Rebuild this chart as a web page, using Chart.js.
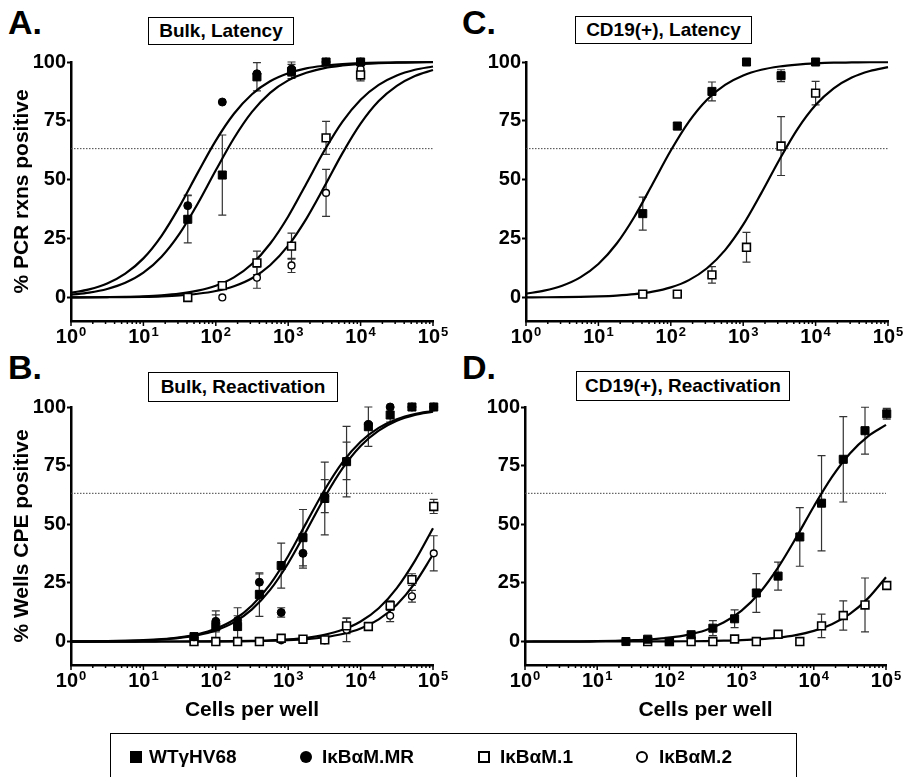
<!DOCTYPE html>
<html>
<head>
<meta charset="utf-8">
<script src="https://cdn.jsdelivr.net/npm/chart.js@4.4.1/dist/chart.umd.min.js"></script>
<style>
  body { margin: 0; width: 905px; height: 777px; overflow: hidden; background: #fff; position: relative;
         font-family: "Liberation Sans", Arial, sans-serif; color: #000; }
  canvas { position: absolute; }
  .letter { position: absolute; font-weight: bold; font-size: 34px; line-height: 1; }
  .tbox { position: absolute; box-sizing: border-box; border: 1.5px solid #000; font-weight: bold;
          font-size: 19px; text-align: center; white-space: nowrap; line-height: 25px; }
  #legend { position: absolute; left: 110px; top: 733px; width: 687px; height: 60px; box-sizing: border-box;
            border: 1.5px solid #000; }
  .item { position: absolute; top: 746px; font-weight: bold; font-size: 19px; line-height: 22px; white-space: nowrap; }
  .mk { position: absolute; box-sizing: border-box; }
</style>
</head>
<body>

<div class="letter" style="left:8px; top:5px;">A.</div>
<div class="letter" style="left:462px; top:5px;">C.</div>
<div class="letter" style="left:8px; top:350px;">B.</div>
<div class="letter" style="left:462px; top:350px;">D.</div>

<div class="tbox" style="left:148px; top:17px; width:146px; height:28px;">Bulk, Latency</div>
<div class="tbox" style="left:575px; top:16px; width:177px; height:28px;">CD19(+), Latency</div>
<div class="tbox" style="left:148px; top:372px; width:190px; height:30px; line-height:27px;">Bulk, Reactivation</div>
<div class="tbox" style="left:576px; top:371px; width:214px; height:30px; line-height:27px;">CD19(+), Reactivation</div>

<canvas id="cA" width="452" height="350" style="left:0; top:0;"></canvas>
<canvas id="cC" width="453" height="350" style="left:452px; top:0;"></canvas>
<canvas id="cB" width="452" height="385" style="left:0; top:350px;"></canvas>
<canvas id="cD" width="453" height="385" style="left:452px; top:350px;"></canvas>

<div id="legend"></div>
<div id="legendItems"></div>

<script>
// Noms des séries
const SERIES = ['WTγHV68', 'IκBαM.MR', 'IκBαM.1', 'IκBαM.2'];

// Axes
const X_TICKS = [1, 10, 100, 1000, 10000, 100000];
const X_EXP = ['0', '1', '2', '3', '4', '5'];
const Y_TICKS = [0, 25, 50, 75, 100];
const THRESH = 63.2;

// Grille des courbes ajustées (cellules par puits)
const CURVE_X = [1, 1.78, 3.16, 5.62, 10, 17.8, 31.6, 56.2, 100, 178, 316, 562, 1000, 1778, 3162,
                 5623, 10000, 17783, 31623, 56234, 100000];

// A. Bulk, Latency
const A_X = [41, 123, 370, 1111, 3333, 10000];
const A_WT = [33.2, 52, 93.7, 96, 100, 100];
const A_WT_ERR = [10, 17, 6, 3, 0, 0];
const A_MR = [39, 83, 95, 97, 100, 100];
const A_MR_ERR = [4.5, 0, 0, 3, 0, 0];
const A_M1 = [0, 5, 14.7, 21.8, 67.8, 94.5];
const A_M1_ERR = [0, 0, 5, 5.5, 7, 2.5];
const A_M2 = [0, 0, 8.4, 13.6, 44.4, 97];
const A_M2_ERR = [0, 0, 4.5, 3, 10, 2];
const A_WT_FIT = [1.16, 2.05, 3.58, 6.2, 10.5, 17.3, 27.1, 39.8, 54.0, 67.6, 78.8, 86.9, 92.2, 95.4, 97.4,
                  98.5, 99.2, 99.5, 99.7, 99.85, 99.9];
const A_MR_FIT = [1.96, 3.43, 5.94, 10.1, 16.6, 26.2, 38.7, 52.9, 66.6, 78.0, 86.3, 91.8, 95.2, 97.3, 98.4,
                  99.1, 99.5, 99.7, 99.8, 99.9, 100];
const A_M1_FIT = [0.05, 0.09, 0.17, 0.29, 0.52, 0.93, 1.63, 2.87, 4.99, 8.53, 14.2, 22.8, 34.4, 48.3, 62.4,
                  74.7, 84.0, 90.3, 94.3, 96.7, 98.1];
const A_M2_FIT = [0.03, 0.05, 0.09, 0.16, 0.28, 0.5, 0.88, 1.56, 2.74, 4.77, 8.18, 13.7, 22.0, 33.4, 47.1,
                  61.3, 73.8, 83.4, 89.9, 94.1, 96.6];

// C. CD19(+), Latency
const C_X = [41, 123, 370, 1111, 3333, 10000];
const C_WT = [35.6, 72.8, 87.5, 100, 94.2, 100];
const C_WT_ERR = [7, 1.5, 4, 0, 2.5, 0];
const C_M1 = [1.4, 1.4, 9.6, 21.3, 64.3, 86.8];
const C_M1_ERR = [1.2, 1, 3.5, 6.3, 12.5, 5];
const C_WT_FIT = [1.63, 2.87, 4.99, 8.53, 14.2, 22.8, 34.4, 48.3, 62.4, 74.7, 84.0, 90.3, 94.3, 96.7, 98.1,
                  98.9, 99.4, 99.7, 99.8, 99.9, 99.9];
const C_M1_FIT = [0.04, 0.08, 0.14, 0.25, 0.45, 0.79, 1.39, 2.45, 4.27, 7.36, 12.4, 20.1, 30.9, 44.3, 58.5,
                  71.5, 81.7, 88.8, 93.4, 96.2, 97.8];

// B. Bulk, Reactivation
const B_X = [50, 100, 200, 400, 800, 1600, 3200, 6400, 12800, 25600, 51200, 102400];
const B_WT = [2.1, 6.4, 6.4, 20, 32.4, 44.3, 61, 76.7, 91.6, 96.6, 100, 100];
const B_WT_ERR = [0.5, 5, 8, 9.3, 9.6, 12, 15.5, 15, 8.4, 3, 0, 0];
const B_MR = [2, 8.6, 9, 25.3, 12.4, 37.6, 62, 77, 92.6, 100, 100, 100];
const B_MR_ERR = [0, 4.5, 2, 3.5, 2, 6.3, 7, 8, 0, 0, 0, 0];
const B_M1 = [0, 0, 0, 0, 1.4, 1, 0.7, 6.7, 6.4, 15.3, 26.4, 57.6];
const B_M1_ERR = [0, 0, 0, 0, 0.8, 0.8, 0.8, 3.3, 1, 2, 2.5, 3];
const B_M2 = [0, 0, 0, 0, 0.5, 1, 0.5, 5, 6.4, 11, 19.3, 37.6];
const B_M2_ERR = [0, 0, 0, 0, 0.8, 0.8, 0.8, 5, 1, 2.5, 2.5, 7.5];
const B_WT_FIT = [0.05, 0.09, 0.16, 0.28, 0.5, 0.88, 1.56, 2.74, 4.77, 8.18, 13.7, 22.0, 33.4, 47.1, 61.3,
                  73.8, 83.4, 89.9, 94.1, 96.6, 98.0];
const B_MR_FIT = [0.06, 0.1, 0.18, 0.32, 0.57, 1.01, 1.79, 3.13, 5.44, 9.28, 15.4, 24.4, 36.5, 50.6, 64.5,
                  76.4, 85.2, 91.1, 94.8, 97.0, 98.3];
const B_M1_FIT = [0, 0, 0, 0, 0.01, 0.02, 0.03, 0.05, 0.09, 0.17, 0.29, 0.52, 0.93, 1.63, 2.87,
                  4.99, 8.53, 14.2, 22.8, 34.4, 48.3];
const B_M2_FIT = [0, 0, 0, 0, 0, 0.01, 0.02, 0.03, 0.06, 0.1, 0.19, 0.33, 0.59, 1.04, 1.83,
                  3.2, 5.56, 9.48, 15.7, 24.9, 37.1];

// D. CD19(+), Reactivation
const D_X = [25, 50, 100, 200, 400, 800, 1600, 3200, 6400, 12800, 25600, 51200, 102400];
const D_WT = [0, 1, 0, 2.9, 5.7, 9.7, 20.7, 27.9, 44.6, 59, 77.7, 89.9, 97.1];
const D_WT_ERR = [0, 0.5, 0, 0.8, 3.2, 3.8, 8.3, 6, 12.5, 20.3, 18.2, 10, 2.3];
const D_M1 = [null, 0, 0, 0, 0, 1.1, 0, 3.1, 0, 6.7, 11.1, 15.6, 23.9];
const D_M1_ERR = [0, 0, 0, 0.8, 0.8, 0.8, 0.8, 1, 0, 5, 6.2, 11.5, 0];
const D_WT_FIT = [0.02, 0.04, 0.06, 0.11, 0.19, 0.33, 0.57, 0.98, 1.68, 2.87, 4.85, 8.1, 13.2, 20.8, 31.3,
                  44.0, 57.6, 70.1, 80.2, 87.5, 92.4];
const D_M1_FIT = [0, 0, 0, 0, 0.01, 0.02, 0.03, 0.05, 0.08, 0.13, 0.21, 0.36, 0.6, 1.0, 1.66,
                  2.75, 4.54, 7.39, 11.8, 18.4, 27.4];

const FONT = '"Liberation Sans", Arial, sans-serif';

// Style des marqueurs par série (WT, MR, M.1, M.2)
const MARKERS = [
    { style: 'rect', r: 5.7, fill: '#000', bw: 1 },
    { style: 'circle', r: 4, fill: '#000', bw: 1 },
    { style: 'rect', r: 5.5, fill: '#fff', bw: 1.6 },
    { style: 'circle', r: 3.4, fill: '#fff', bw: 1.4 }
];

// Plugin: barres d'erreur, graduations log de l'axe x, titres d'axes
const decor = {
    id: 'decor',
    beforeDatasetsDraw(chart) {
        const ctx = chart.ctx;
        const x = chart.scales.x, y = chart.scales.y;
        ctx.save();
        ctx.strokeStyle = '#333';
        ctx.lineWidth = 1.2;
        chart.data.datasets.forEach(ds => {
            if (!ds.hasErrors) return;
            ds.data.forEach(p => {
                if (!p.e) return;
                const px = x.getPixelForValue(p.x);
                const y1 = y.getPixelForValue(p.y + p.e);
                const y2 = y.getPixelForValue(p.y - p.e);
                ctx.beginPath();
                ctx.moveTo(px, y1); ctx.lineTo(px, y2);
                ctx.moveTo(px - 4, y1); ctx.lineTo(px + 4, y1);
                ctx.moveTo(px - 4, y2); ctx.lineTo(px + 4, y2);
                ctx.stroke();
            });
        });
        ctx.restore();
    },
    afterDraw(chart) {
        const ctx = chart.ctx;
        const x = chart.scales.x;
        const area = chart.chartArea;
        const base = area.bottom;
        const opts = chart.options.plugins.decor;
        ctx.save();
        ctx.strokeStyle = '#000';
        ctx.fillStyle = '#000';
        ctx.lineWidth = 1.5;
        X_TICKS.forEach((v, k) => {
            const px = x.getPixelForValue(v);
            ctx.beginPath();
            ctx.moveTo(px, base); ctx.lineTo(px, base + 5);
            ctx.stroke();
            if (k < X_TICKS.length - 1) {
                for (let m = 2; m <= 9; m++) {
                    const mx = x.getPixelForValue(v * m);
                    ctx.beginPath();
                    ctx.moveTo(mx, base); ctx.lineTo(mx, base + 3);
                    ctx.stroke();
                }
            }
            ctx.font = 'bold 20px ' + FONT;
            const w1 = ctx.measureText('10').width;
            ctx.font = 'bold 13px ' + FONT;
            const w2 = ctx.measureText(X_EXP[k]).width;
            const x0 = px - (w1 + w2 + 1) / 2;
            ctx.textAlign = 'left';
            ctx.textBaseline = 'alphabetic';
            ctx.font = 'bold 20px ' + FONT;
            ctx.fillText('10', x0, base + 22);
            ctx.font = 'bold 13px ' + FONT;
            ctx.fillText(X_EXP[k], x0 + w1 + 1, base + 15);
        });
        ctx.font = 'bold 21px ' + FONT;
        ctx.textAlign = 'center';
        ctx.textBaseline = 'middle';
        if (opts.xTitle) {
            ctx.fillText(opts.xTitle, (area.left + area.right) / 2, base + 45);
        }
        if (opts.yTitle) {
            ctx.translate(22.5, (area.top + area.bottom) / 2);
            ctx.rotate(-Math.PI / 2);
            ctx.fillText(opts.yTitle, 0, 0);
        }
        ctx.restore();
    }
};

function pontos(xs, ys, errs) {
    const out = [];
    xs.forEach((v, i) => {
        if (ys[i] === null) return;
        out.push({ x: v, y: ys[i], e: errs[i] });
    });
    return out;
}

function curva(ys) {
    return CURVE_X.map((v, i) => ({ x: v, y: ys[i] }));
}

function criarPainel(id, cfg) {
    const datasets = [];
    cfg.series.forEach(s => {
        const mk = MARKERS[s.idx];
        datasets.push({
            label: SERIES[s.idx],
            data: pontos(cfg.x, s.y, s.err),
            hasErrors: true,
            pointStyle: mk.style,
            pointRadius: mk.r,
            backgroundColor: mk.fill,
            borderColor: '#000',
            borderWidth: mk.bw,
            showLine: false,
            order: 1,
            clip: false
        });
    });
    cfg.series.forEach(s => {
        datasets.push({
            label: SERIES[s.idx] + ' fit',
            data: curva(s.fit),
            showLine: true,
            pointRadius: 0,
            borderColor: '#000',
            borderWidth: 2.2,
            cubicInterpolationMode: 'monotone',
            order: 2,
            clip: false
        });
    });
    datasets.push({
        label: 'threshold',
        data: [{ x: X_TICKS[0], y: THRESH }, { x: X_TICKS[X_TICKS.length - 1], y: THRESH }],
        showLine: true,
        pointRadius: 0,
        borderColor: '#444',
        borderWidth: 1,
        borderDash: [1.5, 1.5],
        order: 3
    });

    new Chart(document.getElementById(id), {
        type: 'scatter',
        data: { datasets: datasets },
        plugins: [decor],
        options: {
            responsive: false,
            animation: false,
            events: [],
            layout: { padding: { top: cfg.padTop, right: cfg.padRight, left: 0, bottom: 0 } },
            plugins: {
                legend: { display: false },
                tooltip: { enabled: false },
                decor: { yTitle: cfg.yTitle, xTitle: cfg.xTitle }
            },
            scales: {
                x: {
                    type: 'logarithmic',
                    min: X_TICKS[0],
                    max: X_TICKS[X_TICKS.length - 1],
                    afterFit: s => { s.height = cfg.xH; },
                    ticks: { display: false },
                    grid: { display: false },
                    border: { display: true, color: '#000', width: 2.5 }
                },
                y: {
                    min: -10,
                    max: 100,
                    afterBuildTicks: s => { s.ticks = Y_TICKS.map(v => ({ value: v })); },
                    afterFit: s => { s.width = cfg.yW; },
                    ticks: { font: { family: FONT, size: 20, weight: 'bold' }, color: '#000', padding: 1 },
                    grid: { drawOnChartArea: false, drawTicks: true, tickLength: 4, tickWidth: 2, tickColor: '#000' },
                    border: { display: true, color: '#000', width: 2.5 }
                }
            }
        }
    });
}

document.addEventListener('DOMContentLoaded', function() {
    criarPainel('cA', {
        x: A_X, padTop: 62, padRight: 19, yW: 71, xH: 29,
        yTitle: '% PCR rxns positive',
        series: [
            { idx: 0, y: A_WT, err: A_WT_ERR, fit: A_WT_FIT },
            { idx: 1, y: A_MR, err: A_MR_ERR, fit: A_MR_FIT },
            { idx: 2, y: A_M1, err: A_M1_ERR, fit: A_M1_FIT },
            { idx: 3, y: A_M2, err: A_M2_ERR, fit: A_M2_FIT }
        ]
    });
    criarPainel('cC', {
        x: C_X, padTop: 62, padRight: 17, yW: 74, xH: 29,
        series: [
            { idx: 0, y: C_WT, err: C_WT_ERR, fit: C_WT_FIT },
            { idx: 2, y: C_M1, err: C_M1_ERR, fit: C_M1_FIT }
        ]
    });
    criarPainel('cB', {
        x: B_X, padTop: 57, padRight: 19, yW: 71, xH: 70,
        yTitle: '% Wells CPE positive', xTitle: 'Cells per well',
        series: [
            { idx: 0, y: B_WT, err: B_WT_ERR, fit: B_WT_FIT },
            { idx: 1, y: B_MR, err: B_MR_ERR, fit: B_MR_FIT },
            { idx: 2, y: B_M1, err: B_M1_ERR, fit: B_M1_FIT },
            { idx: 3, y: B_M2, err: B_M2_ERR, fit: B_M2_FIT }
        ]
    });
    criarPainel('cD', {
        x: D_X, padTop: 57, padRight: 19, yW: 73, xH: 70,
        xTitle: 'Cells per well',
        series: [
            { idx: 0, y: D_WT, err: D_WT_ERR, fit: D_WT_FIT },
            { idx: 2, y: D_M1, err: D_M1_ERR, fit: D_M1_FIT }
        ]
    });

    // Legenda comum
    const LEG_MARK_X = [130, 300, 478, 636];
    const LEG_TEXT_X = [149, 322, 500, 659];
    const box = document.getElementById('legendItems');
    SERIES.forEach((nome, i) => {
        const mk = document.createElement('div');
        mk.className = 'mk';
        const filled = i < 2;
        const round = i % 2 === 1;
        const size = 12;
        mk.style.left = LEG_MARK_X[i] + 'px';
        mk.style.top = (757 - size / 2) + 'px';
        mk.style.width = size + 'px';
        mk.style.height = size + 'px';
        mk.style.borderRadius = round ? '50%' : '0';
        mk.style.background = filled ? '#000' : '#fff';
        mk.style.border = filled ? 'none' : '2px solid #000';
        box.appendChild(mk);
        const t = document.createElement('div');
        t.className = 'item';
        t.style.left = LEG_TEXT_X[i] + 'px';
        t.textContent = nome;
        box.appendChild(t);
    });
});
</script>
</body>
</html>
